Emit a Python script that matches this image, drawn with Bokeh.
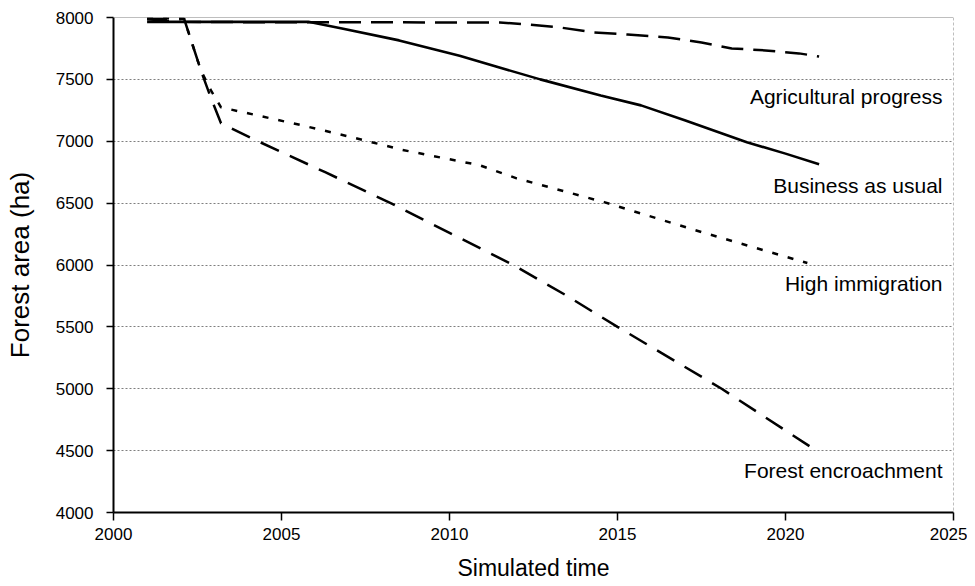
from bokeh.plotting import figure
from bokeh.models import Range1d, FixedTicker, Span, Label
from bokeh.embed import file_html
from bokeh.resources import INLINE

# ---- data ----
agri_years = [2001, 2002, 2004, 2006, 2008, 2010, 2011.5, 2012.3, 2013.3, 2014.3, 2015.3, 2016.5, 2017.5, 2018.4, 2019.4, 2020.4, 2021]
agri_vals = [7985, 7965, 7962, 7962, 7961, 7960, 7960, 7944, 7919, 7879, 7863, 7839, 7798, 7750, 7734, 7710, 7685]

bau_years = [2001, 2005.8, 2006.8, 2008.5, 2010.3, 2012.7, 2014.5, 2015.7, 2017.0, 2018.85, 2020.0, 2021.0]
bau_vals = [7965, 7965, 7911, 7815, 7690, 7500, 7370, 7290, 7170, 6992, 6900, 6815]

imm_years = [2001, 2002.1, 2002.6, 2002.9, 2003.2, 2004.0, 2005.6, 2007.1, 2008.6, 2010.9, 2012.0, 2014.6, 2017.5, 2020.65]
imm_vals = [8000, 7990, 7573, 7411, 7274, 7226, 7129, 7032, 6930, 6806, 6700, 6508, 6266, 6016]

enc_years = [2001, 2002.1, 2002.6, 2002.9, 2003.2, 2004.3, 2006.3, 2008.25, 2010.0, 2011.9, 2013.5, 2015.0, 2018.1, 2021.0]
enc_vals = [7990, 7990, 7573, 7350, 7145, 7000, 6750, 6500, 6260, 6000, 5750, 5500, 5000, 4485]

scenario_names = ["Agricultural progress", "Business as usual", "High immigration", "Forest encroachment"]
label_levels = [7365, 6645, 5847, 4339]

x_ticks = [2000, 2005, 2010, 2015, 2020, 2025]
y_ticks = [4000, 4500, 5000, 5500, 6000, 6500, 7000, 7500, 8000]

FONT = "Liberation Sans"

p = figure(width=967, height=586, output_backend="svg", toolbar_location=None,
           x_range=Range1d(2000, 2025), y_range=Range1d(4000, 8000),
           min_border_left=113, min_border_right=14, min_border_top=17, min_border_bottom=74)

p.outline_line_color = None
p.background_fill_color = "white"
p.border_fill_color = "white"

# grid
p.xgrid.grid_line_color = None
p.ygrid.ticker = FixedTicker(ticks=y_ticks)
p.ygrid.grid_line_color = "#7f7f7f"
p.ygrid.grid_line_dash = "2 2"
p.ygrid.grid_line_width = 1

p.add_layout(Span(location=8000, dimension="width", line_color="#7f7f7f", line_width=1))
p.add_layout(Span(location=2025, dimension="height", line_color="#7f7f7f", line_width=1, line_dash="3 2"))

# axes
for ax in (p.xaxis[0], p.yaxis[0]):
    ax.axis_line_color = "black"
    ax.axis_line_width = 2
    ax.major_tick_line_color = "black"
    ax.major_tick_line_width = 1.5
    ax.minor_tick_line_color = None
    ax.major_tick_in = 0
    ax.major_label_text_font = FONT
    ax.major_label_text_font_size = "17px"
    ax.major_label_text_color = "black"
    ax.axis_label_text_font = FONT
    ax.axis_label_text_font_style = "normal"
    ax.axis_label_text_color = "black"

p.xaxis.axis_label_text_font_size = "23px"
p.yaxis.axis_label_text_font_size = "26px"
p.xaxis.ticker = FixedTicker(ticks=x_ticks)
p.yaxis.ticker = FixedTicker(ticks=y_ticks)
p.xaxis.major_tick_out = 8
p.yaxis.major_tick_out = 7
p.xaxis.major_label_standoff = 7
p.yaxis.major_label_standoff = 13
p.xaxis.axis_label = "Simulated time"
p.yaxis.axis_label = "Forest area (ha)"
p.xaxis.axis_label_standoff = 12
p.yaxis.axis_label_standoff = 18

# series
p.line(agri_years, agri_vals, line_color="black", line_width=2.5, line_dash="22 10")
p.line(bau_years, bau_vals, line_color="black", line_width=2.6)
p.line(imm_years, imm_vals, line_color="black", line_width=2.5, line_dash="6 10")
p.line(enc_years, enc_vals, line_color="black", line_width=2.5, line_dash="20 12")

for name, lvl in zip(scenario_names, label_levels):
    p.add_layout(Label(x=2025, y=lvl, x_offset=-11, text=name, text_align="right",
                       text_baseline="middle", text_font=FONT, text_font_size="21px",
                       text_color="black"))

open("out.html", "w").write(file_html(p, INLINE))
